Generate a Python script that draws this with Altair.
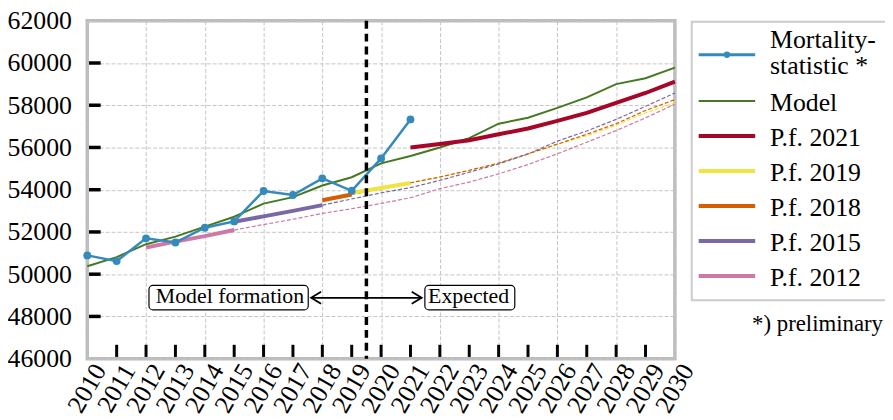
import altair as alt
import pandas as pd

# ---------------- data ----------------
years = list(range(2010, 2031))
y_values = list(range(46000, 62001, 2000))
x_tick_years = list(range(2011, 2030))
y_tick_values = list(range(48000, 60001, 2000))

series_names = ["Mortality-statistic *", "Model", "P.f. 2021", "P.f. 2019",
                "P.f. 2018", "P.f. 2015", "P.f. 2012"]
legend_labels = ["Mortality-\nstatistic *", "Model", "P.f. 2021", "P.f. 2019",
                 "P.f. 2018", "P.f. 2015", "P.f. 2012"]
series_colors = ["#348ABD", "#467821", "#A60628", "#F0E442",
                 "#D55E00", "#7A68A6", "#CC79A7"]

mortality_years = list(range(2010, 2022))
mortality = [50890, 50620, 51700, 51500, 52200, 52500, 53940, 53750, 54540,
             53950, 55480, 57330]

model = [50375, 50810, 51420, 51780, 52250, 52720, 53340, 53650, 54200, 54590,
         55250, 55600, 56000, 56440, 57125, 57406, 57875, 58375, 59000, 59280,
         59780]

pf2021_years = list(range(2021, 2031))
pf2021 = [56000, 56160, 56345, 56625, 56900, 57260, 57640, 58110, 58580, 59120]

pf2019_years = list(range(2019, 2031))
pf2019 = [53850, 54080, 54320, 54600, 54910, 55250, 55690, 56150, 56550, 57060,
          57640, 58110]

pf2018_years = list(range(2018, 2031))
pf2018 = [53500, 53770, 54050, 54330, 54600, 54920, 55260, 55700, 56160, 56625,
          57125, 57750, 58265]

pf2015_years = list(range(2015, 2031))
pf2015 = [52480, 52740, 53000, 53270, 53560, 53850, 54100, 54440, 54830, 55220,
          55690, 56300, 56780, 57330, 57950, 58580]

pf2012_years = list(range(2012, 2031))
pf2012 = [51265, 51540, 51800, 52090, 52350, 52600, 52880, 53100, 53350, 53620,
          54050, 54360, 54750, 55190, 55700, 56250, 56800, 57400, 58050]

# last year of the solid (formation) part of each projection
predictions = [
    ("P.f. 2021", pf2021_years, pf2021, 2030),
    ("P.f. 2019", pf2019_years, pf2019, 2021),
    ("P.f. 2018", pf2018_years, pf2018, 2019),
    ("P.f. 2015", pf2015_years, pf2015, 2018),
    ("P.f. 2012", pf2012_years, pf2012, 2015),
]

# ---------------- tables ----------------
mort_df = pd.DataFrame({"series": series_names[0], "year": mortality_years, "value": mortality})
model_df = pd.DataFrame({"series": "Model", "year": years, "value": model})
solid_rows, dash_rows = [], []
for name, yrs, vals, last in predictions:
    for yr, v in zip(yrs, vals):
        if yr <= last:
            solid_rows.append({"series": name, "year": yr, "value": v})
        if yr >= last:
            dash_rows.append({"series": name, "year": yr, "value": v})
solid_df = pd.DataFrame(solid_rows)
dash_df = pd.DataFrame(dash_rows)
xt_df = pd.DataFrame({"year": x_tick_years})
yt_df = pd.DataFrame({"value": y_tick_values})
xl_df = pd.DataFrame({"year": years, "label": [str(y) for y in years]})

FONT = "Liberation Serif, Times New Roman, Nimbus Roman, DejaVu Serif, serif"
W, H = 593, 341

color = alt.Color("series:N", scale=alt.Scale(domain=series_names, range=series_colors), legend=None)

x_axis = alt.Axis(values=years, format="d", title=None, labels=False)
y_axis = alt.Axis(values=y_values, format="d", title=None)

X = alt.X("year:Q", scale=alt.Scale(domain=[2010, 2030], nice=False, zero=False), axis=x_axis)
Y = alt.Y("value:Q", scale=alt.Scale(domain=[46000, 62000], nice=False, zero=False), axis=y_axis)

dashed = alt.Chart(dash_df).mark_line(strokeWidth=1.2, strokeDash=[4, 2]).encode(
    x=X, y=Y, color=color, detail="series:N")
model_line = alt.Chart(model_df).mark_line(strokeWidth=2).encode(x=X, y=Y, color=color)
solid = alt.Chart(solid_df).mark_line(strokeWidth=4).encode(
    x=X, y=Y, color=color, detail="series:N")
mort_line = alt.Chart(mort_df).mark_line(strokeWidth=2.5).encode(x=X, y=Y, color=color)
mort_pts = alt.Chart(mort_df).mark_circle(size=62, opacity=1).encode(x=X, y=Y, color=color)

x_ticks = alt.Chart(xt_df).mark_rule(color="black", strokeWidth=3).encode(
    x=X, y=alt.value(H - 1.75), y2=alt.value(H - 14))
y_ticks = alt.Chart(yt_df).mark_rule(color="black", strokeWidth=3.5).encode(
    y=Y, x=alt.value(1.75), x2=alt.value(13.5))
x_labels = alt.Chart(xl_df).mark_text(font=FONT, fontSize=26, angle=300, align="center",
                                      baseline="middle", color="black").encode(
    x=X, y=alt.value(H + 30), text="label:N")

one = pd.DataFrame({"k": [0]})
vline = alt.Chart(one).mark_rule(color="black", strokeWidth=3.5, strokeDash=[8, 5]).encode(
    x=alt.datum(2019.5))

box_style = dict(fill="white", stroke="black", strokeWidth=1.2, cornerRadius=4)
box1 = alt.Chart(one).mark_rect(**box_style).encode(
    x=alt.datum(2012.1), x2=alt.datum(2017.52), y=alt.datum(49470), y2=alt.datum(48311))
box2 = alt.Chart(one).mark_rect(**box_style).encode(
    x=alt.datum(2021.49), x2=alt.datum(2024.55), y=alt.datum(49470), y2=alt.datum(48311))
txt1 = alt.Chart(one).mark_text(font=FONT, fontSize=22, align="right", baseline="alphabetic",
                                color="black").encode(
    x=alt.datum(2017.38), y=alt.datum(48625), text=alt.value("Model formation"))
txt2 = alt.Chart(one).mark_text(font=FONT, fontSize=22, align="left", baseline="alphabetic",
                                color="black").encode(
    x=alt.datum(2021.6), y=alt.datum(48625), text=alt.value("Expected"))
arrow = alt.Chart(one).mark_rule(color="black", strokeWidth=1.8).encode(
    x=alt.datum(2017.62), x2=alt.datum(2021.38), y=alt.datum(48883))
head_l = alt.Chart(one).mark_point(shape="M2,-1.2L0,0L2,1.2", size=100, filled=False,
                                   color="black", strokeWidth=1.8, opacity=1).encode(
    x=alt.datum(2017.62), y=alt.datum(48883))
head_r = alt.Chart(one).mark_point(shape="M-2,-1.2L0,0L-2,1.2", size=100, filled=False,
                                   color="black", strokeWidth=1.8, opacity=1).encode(
    x=alt.datum(2021.38), y=alt.datum(48883))

# ---------------- legend ----------------
leg = [alt.Chart(one).mark_rect(fill="white", stroke="#cccccc", strokeWidth=2).encode(
    x=alt.value(610), x2=alt.value(830), y=alt.value(1), y2=alt.value(282))]
leg_line_y = [34.3] + [81 + 35.3 * i for i in range(6)]
leg_text_y = [27.7] + [yy + 9.8 for yy in leg_line_y[1:]]
leg_widths = [3, 2, 4, 4, 4, 4, 4]
for lab, col, ly, ty, sw in zip(legend_labels, series_colors, leg_line_y, leg_text_y, leg_widths):
    leg.append(alt.Chart(one).mark_rule(color=col, strokeWidth=sw).encode(
        x=alt.value(617), x2=alt.value(674), y=alt.value(ly)))
    for j, part in enumerate(lab.split("\n")):
        leg.append(alt.Chart(one).mark_text(font=FONT, fontSize=26, align="left",
                                            baseline="alphabetic", color="black").encode(
            x=alt.value(689), y=alt.value(ty + 26 * j), text=alt.value(part)))
leg.append(alt.Chart(one).mark_circle(size=40, opacity=1, color=series_colors[0]).encode(
    x=alt.value(645.5), y=alt.value(leg_line_y[0])))
leg.append(alt.Chart(one).mark_text(font=FONT, fontSize=23, align="right",
                                    baseline="alphabetic", color="black").encode(
    x=alt.value(803), y=alt.value(312.7), text=alt.value("*) preliminary")))

chart = alt.layer(
    dashed, model_line, solid, mort_line, mort_pts, x_ticks, y_ticks, x_labels, vline,
    arrow, head_l, head_r, box1, box2, txt1, txt2, *leg
).properties(
    width=W, height=H,
    autosize=alt.AutoSizeParams(type="none"),
    padding={"left": 80, "top": 11, "right": 212, "bottom": 58},
).configure_view(
    stroke="#bcbcbc", strokeWidth=3.5
).configure_axis(
    ticks=False, tickSize=0, domain=False, grid=True, gridDash=[4, 2],
    gridColor="#c4c4c4", gridWidth=1, labelFont=FONT, labelFontSize=26,
    labelColor="black", labelOverlap=False, labelFlush=False, title=None
).configure_axisY(
    labelPadding=16
)

chart.save("out.html", embed_options={"renderer": "svg", "actions": False})
